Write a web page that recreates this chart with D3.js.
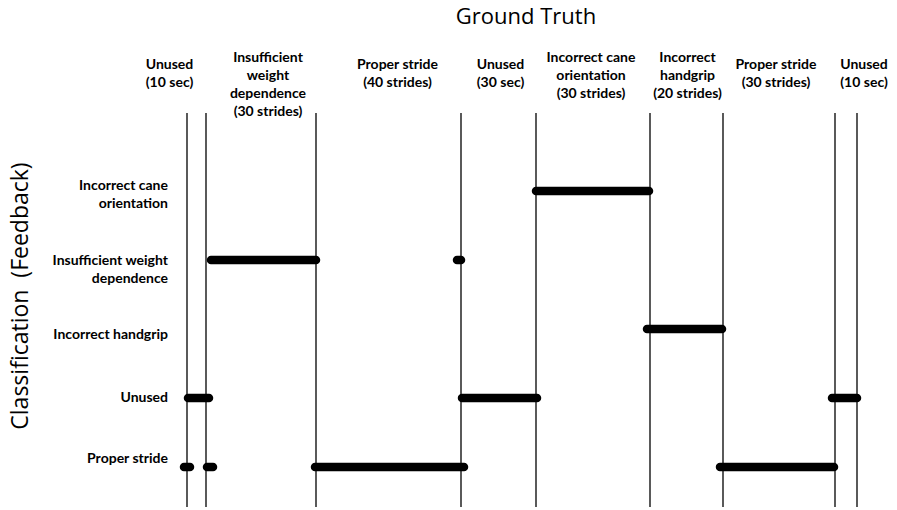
<!DOCTYPE html>
<html lang="en">
<head>
<meta charset="UTF-8">
<title>Ground Truth vs Classification</title>
<style>
  body { margin: 0; background: #fff; }
  .lbl { font-family: Lato, "Open Sans", sans-serif; font-weight: bold; font-size: 14px; fill: #000; }
  .title { font-family: "Open Sans", sans-serif; font-size: 22px; fill: #000; }
</style>
</head>
<body>
<div id="chart"></div>
<script src="https://d3js.org/d3.v7.min.js"></script>
<script>
// ground truth segments: boundaries on the timeline (arbitrary units)
const boundaries = [0, 19, 129, 274, 349, 463, 536, 648, 670];
const truthLabels = [
  ["Unused", "(10 sec)"],
  ["Insufficient", "weight", "dependence", "(30 strides)"],
  ["Proper stride", "(40 strides)"],
  ["Unused", "(30 sec)"],
  ["Incorrect cane", "orientation", "(30 strides)"],
  ["Incorrect", "handgrip", "(20 strides)"],
  ["Proper stride", "(30 strides)"],
  ["Unused", "(10 sec)"]
];

// classifier output classes (top to bottom)
const classes = ["cane", "weight", "handgrip", "unused", "proper"];
const classLabels = [
  ["Incorrect cane", "orientation"],
  ["Insufficient weight", "dependence"],
  ["Incorrect handgrip"],
  ["Unused"],
  ["Proper stride"]
];

// detected intervals [class, start, end]
const detections = [
  ["cane", 349, 462],
  ["weight", 24, 129],
  ["weight", 270, 274],
  ["handgrip", 460, 535],
  ["unused", 1, 22],
  ["unused", 275, 350],
  ["unused", 645, 670],
  ["proper", -3, 3],
  ["proper", 20, 26],
  ["proper", 128, 277],
  ["proper", 533, 647]
];

// layout tweaks
const colLabelShift = [-27, 7, 9, 2, -2, 1, -3, 18];
const rowLabelShift = [-6, 0, 5, -1, -9];

const width = 897, height = 510;
const svg = d3.select('#chart').append('svg')
  .attr('width', width)
  .attr('height', height);

const x = d3.scaleLinear().domain([0, 670]).range([187, 857]);
const y = d3.scalePoint().domain(classes).range([191, 467]);
const lineTop = 113, lineBottom = 507;

svg.append('text')
  .attr('class', 'title')
  .attr('x', 526)
  .attr('y', 24)
  .attr('text-anchor', 'middle')
  .text('Ground Truth');

svg.append('text')
  .attr('class', 'title')
  .attr('transform', 'translate(28, 296) rotate(-90)')
  .attr('text-anchor', 'middle')
  .style('font-size', '23px')
  .style('white-space', 'pre')
  .text('Classification  (Feedback)');

// vertical boundary lines
svg.selectAll('.bound')
  .data(boundaries)
  .enter()
  .append('line')
  .attr('class', 'bound')
  .attr('x1', d => x(d))
  .attr('x2', d => x(d))
  .attr('y1', lineTop)
  .attr('y2', lineBottom)
  .attr('stroke', '#000')
  .attr('stroke-width', 1.3);

// column labels
truthLabels.forEach((lines, i) => {
  const cx = (x(boundaries[i]) + x(boundaries[i + 1])) / 2 + colLabelShift[i];
  const first = Math.max(57, 73 - (lines.length - 1) * 9);
  const t = svg.append('text')
    .attr('class', 'lbl')
    .attr('text-anchor', 'middle');
  lines.forEach((s, j) => {
    t.append('tspan')
      .attr('x', cx)
      .attr('y', first + j * 18)
      .attr('dy', '0.35em')
      .text(s);
  });
});

// row labels
classLabels.forEach((lines, i) => {
  const cy = y(classes[i]) + rowLabelShift[i];
  const t = svg.append('text')
    .attr('class', 'lbl')
    .attr('text-anchor', 'end');
  lines.forEach((s, j) => {
    t.append('tspan')
      .attr('x', 168)
      .attr('y', cy + j * 18)
      .attr('dy', '0.35em')
      .text(s);
  });
});

// detection bars
svg.selectAll('.det')
  .data(detections)
  .enter()
  .append('line')
  .attr('class', 'det')
  .attr('x1', d => x(d[1]))
  .attr('x2', d => x(d[2]))
  .attr('y1', d => y(d[0]))
  .attr('y2', d => y(d[0]))
  .attr('stroke', '#000')
  .attr('stroke-width', 8.5)
  .attr('stroke-linecap', 'round');
</script>
</body>
</html>
